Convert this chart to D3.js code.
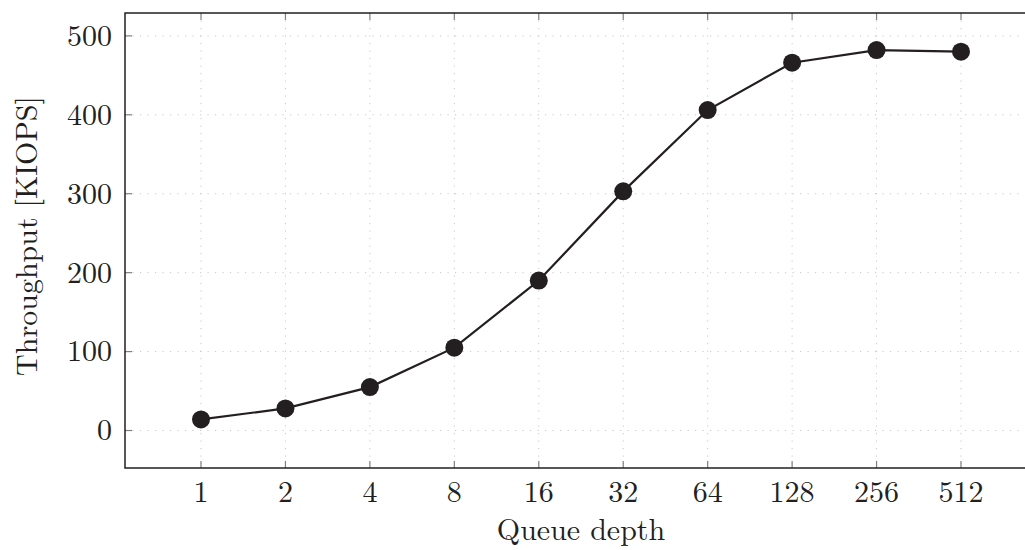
<!DOCTYPE html>
<html>
<head>
<meta charset="utf-8">
<script src="https://cdn.jsdelivr.net/npm/d3@7"></script>
<style>
  body { margin: 0; background: #fff; }
  text { font-family: "Latin Modern Roman", "CMU Serif", "Liberation Serif", serif; fill: #231f20; }
</style>
</head>
<body>
<div id="chart"></div>
<script>
var queueDepths = ["1", "2", "4", "8", "16", "32", "64", "128", "256", "512"];
var throughput = [14, 28, 55, 105, 190, 303, 406, 466, 482, 480];
var yTicks = [0, 100, 200, 300, 400, 500];

var svgWidth = 1025;
var svgHeight = 550;
var fontSize = "30px";

// plot frame (right edge runs past the picture, as in the reference)
var frame = { left: 125, right: 1037, top: 13, bottom: 468 };

var svg = d3.select("#chart")
  .append("svg")
  .attr("width", svgWidth)
  .attr("height", svgHeight);

var xScale = d3.scalePoint()
  .domain(queueDepths)
  .range([201, 961]);

var yScale = d3.scaleLinear()
  .domain([-47.5, 529])
  .range([frame.bottom, frame.top]);

// grid
var grid = svg.append("g")
  .attr("stroke", "#c8c8c8")
  .attr("stroke-width", 1)
  .attr("stroke-dasharray", "1.2,6.3");

grid.selectAll(".vgrid")
  .data(queueDepths)
  .enter()
  .append("line")
  .attr("x1", d => xScale(d))
  .attr("x2", d => xScale(d))
  .attr("y1", frame.top)
  .attr("y2", frame.bottom);

grid.selectAll(".hgrid")
  .data(yTicks)
  .enter()
  .append("line")
  .attr("x1", frame.left)
  .attr("x2", frame.right)
  .attr("y1", d => yScale(d))
  .attr("y2", d => yScale(d));

// inner tick marks
var ticks = svg.append("g")
  .attr("stroke", "#808080")
  .attr("stroke-width", 1.2);

queueDepths.forEach(function(d) {
  ticks.append("line")
    .attr("x1", xScale(d)).attr("x2", xScale(d))
    .attr("y1", frame.bottom).attr("y2", frame.bottom - 7);
  ticks.append("line")
    .attr("x1", xScale(d)).attr("x2", xScale(d))
    .attr("y1", frame.top).attr("y2", frame.top + 7);
});
yTicks.forEach(function(d) {
  ticks.append("line")
    .attr("x1", frame.left).attr("x2", frame.left + 7)
    .attr("y1", yScale(d)).attr("y2", yScale(d));
});

// frame
svg.append("rect")
  .attr("x", frame.left)
  .attr("y", frame.top)
  .attr("width", frame.right - frame.left)
  .attr("height", frame.bottom - frame.top)
  .attr("fill", "none")
  .attr("stroke", "#231f20")
  .attr("stroke-width", 1.5);

// tick labels
svg.selectAll(".xlabel")
  .data(queueDepths)
  .enter()
  .append("text")
  .attr("x", d => xScale(d))
  .attr("y", 502)
  .attr("text-anchor", "middle")
  .attr("font-size", fontSize)
  .text(d => d);

svg.selectAll(".ylabel")
  .data(yTicks)
  .enter()
  .append("text")
  .attr("x", 112)
  .attr("y", d => yScale(d))
  .attr("dy", "0.33em")
  .attr("text-anchor", "end")
  .attr("font-size", fontSize)
  .text(d => d);

// axis titles
svg.append("text")
  .attr("x", 581)
  .attr("y", 540)
  .attr("text-anchor", "middle")
  .attr("font-size", fontSize)
  .text("Queue depth");

svg.append("text")
  .attr("transform", `translate(37, 236) rotate(-90)`)
  .attr("text-anchor", "middle")
  .attr("font-size", fontSize)
  .text("Throughput [KIOPS]");

// line and markers
var line = d3.line()
  .x((d, i) => xScale(queueDepths[i]))
  .y(d => yScale(d));

svg.append("path")
  .datum(throughput)
  .attr("d", line)
  .attr("fill", "none")
  .attr("stroke", "#231f20")
  .attr("stroke-width", 2.2);

svg.selectAll(".dot")
  .data(throughput)
  .enter()
  .append("circle")
  .attr("cx", (d, i) => xScale(queueDepths[i]))
  .attr("cy", d => yScale(d))
  .attr("r", 9)
  .attr("fill", "#231f20");
</script>
</body>
</html>
